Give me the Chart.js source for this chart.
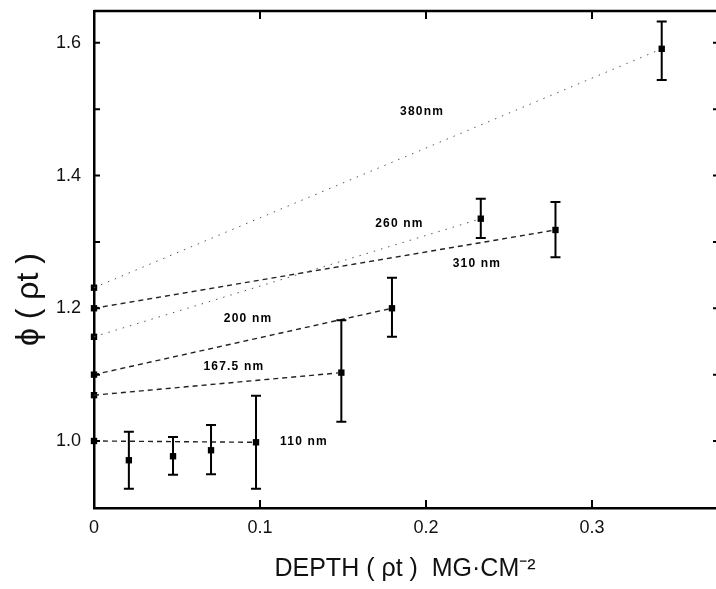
<!DOCTYPE html>
<html>
<head>
<meta charset="utf-8">
<script src="https://cdn.jsdelivr.net/npm/chart.js@4/dist/chart.umd.min.js"></script>
<style>
  body { margin: 0; background: #fff; }
</style>
</head>
<body>
<canvas id="phiChart" width="716" height="589"></canvas>
<script>
// Measured points with error bars
const depth = [0.021, 0.0476, 0.0705, 0.0976, 0.149, 0.1795, 0.233, 0.278, 0.342];
const phi = [0.971, 0.977, 0.986, 0.998, 1.103, 1.200, 1.335, 1.318, 1.591];
const errLow = [0.928, 0.949, 0.950, 0.928, 1.029, 1.157, 1.306, 1.277, 1.544];
const errHigh = [1.014, 1.006, 1.024, 1.068, 1.182, 1.246, 1.365, 1.360, 1.632];

// Extrapolated values at zero depth, one per wavelength
const wavelengths = ['110 nm', '167.5 nm', '200 nm', '260 nm', '310 nm', '380nm'];
const zeroPhi = [1.0, 1.069, 1.10, 1.157, 1.20, 1.231];
const lineEnd = [3, 4, 5, 6, 7, 8]; // index into depth/phi where each line ends
const dotted = [false, false, false, true, false, true];

// Where each wavelength label sits (data coordinates)
const labelX = [0.1265, 0.0843, 0.0928, 0.184, 0.2307, 0.1976];
const labelY = [0.9985, 1.1113, 1.1837, 1.327, 1.2667, 1.496];

// Axis ticks
const xTicks = [0, 0.1, 0.2, 0.3];
const xTickLabels = ['0', '0.1', '0.2', '0.3'];
const yTicks = [1.0, 1.1, 1.2, 1.3, 1.4, 1.5, 1.6];
const yTickLabels = ['1.0', '', '1.2', '', '1.4', '', '1.6'];

const FONT = "'Liberation Sans', Arial, sans-serif";

// Fit lines from zero depth to the measured point
const lineSets = wavelengths.map((w, i) => ({
  type: 'line',
  label: w,
  data: [{ x: 0, y: zeroPhi[i] }, { x: depth[lineEnd[i]], y: phi[lineEnd[i]] }],
  borderColor: dotted[i] ? '#555' : '#222',
  borderWidth: dotted[i] ? 1 : 1.4,
  borderDash: dotted[i] ? [1.5, 6] : [5, 4],
  pointRadius: 0,
  fill: false,
  clip: false
}));

const pointSet = {
  type: 'scatter',
  label: 'points',
  data: depth.map((d, i) => ({ x: d, y: phi[i] }))
    .concat(zeroPhi.map(v => ({ x: 0, y: v }))),
  pointStyle: 'rect',
  pointRadius: 4.5,
  backgroundColor: '#000',
  borderColor: '#000',
  borderWidth: 0,
  clip: false
};

// Error bars, axis frame, inward ticks and line labels
const decorations = {
  id: 'decorations',
  afterDatasetsDraw(chart) {
    const { ctx, chartArea: a, scales: { x, y } } = chart;
    ctx.save();
    ctx.strokeStyle = '#000';
    ctx.lineWidth = 2;

    // error bars
    depth.forEach((d, i) => {
      const px = x.getPixelForValue(d);
      const top = y.getPixelForValue(errHigh[i]);
      const bot = y.getPixelForValue(errLow[i]);
      ctx.beginPath();
      ctx.moveTo(px, top); ctx.lineTo(px, bot);
      ctx.moveTo(px - 5, top); ctx.lineTo(px + 5, top);
      ctx.moveTo(px - 5, bot); ctx.lineTo(px + 5, bot);
      ctx.stroke();
    });

    // top border
    ctx.lineWidth = 2.5;
    ctx.beginPath();
    ctx.moveTo(a.left, a.top); ctx.lineTo(a.right, a.top);
    ctx.stroke();

    // inward ticks
    ctx.lineWidth = 2;
    ctx.beginPath();
    xTicks.slice(1).forEach(v => {
      const px = x.getPixelForValue(v);
      ctx.moveTo(px, a.bottom); ctx.lineTo(px, a.bottom - 8);
      ctx.moveTo(px, a.top); ctx.lineTo(px, a.top + 8);
    });
    yTicks.forEach(v => {
      const py = y.getPixelForValue(v);
      ctx.moveTo(a.left, py); ctx.lineTo(a.left + 6, py);
      ctx.moveTo(a.right, py); ctx.lineTo(a.right - 3, py);
    });
    ctx.stroke();

    // wavelength labels
    ctx.fillStyle = '#000';
    ctx.font = "bold 12px " + FONT;
    ctx.letterSpacing = '1.2px';
    ctx.textAlign = 'center';
    ctx.textBaseline = 'middle';
    wavelengths.forEach((w, i) => {
      ctx.fillText(w, x.getPixelForValue(labelX[i]), y.getPixelForValue(labelY[i]));
    });
    ctx.restore();
  }
};

new Chart(document.getElementById('phiChart').getContext('2d'), {
  data: { datasets: lineSets.concat([pointSet]) },
  options: {
    responsive: false,
    devicePixelRatio: 1,
    animation: false,
    layout: { autoPadding: false, padding: { top: 11, right: 0, left: 0, bottom: 0 } },
    plugins: { legend: { display: false }, tooltip: { enabled: false } },
    scales: {
      x: {
        type: 'linear',
        min: 0,
        max: 0.3747,
        afterBuildTicks: s => { s.ticks = xTicks.map(v => ({ value: v })); },
        afterFit: s => { s.height = 81; s.paddingLeft = 0; s.paddingRight = 0; },
        grid: { display: false, drawTicks: false },
        border: { display: true, color: '#000', width: 2.5 },
        ticks: {
          padding: 9,
          color: '#111',
          font: { family: FONT, size: 18 },
          callback: (v, i) => xTickLabels[i]
        },
        title: {
          display: true,
          text: 'DEPTH ( ρt )  MG·CM⁻²',
          color: '#111',
          font: { family: FONT, size: 25 },
          padding: { top: 0, bottom: 5 }
        }
      },
      y: {
        type: 'linear',
        min: 0.899,
        max: 1.648,
        afterBuildTicks: s => { s.ticks = yTicks.map(v => ({ value: v })); },
        afterFit: s => { s.width = 94; s.paddingTop = 0; s.paddingBottom = 0; },
        grid: { display: false, drawTicks: false },
        border: { display: true, color: '#000', width: 2.5 },
        ticks: {
          padding: 13,
          color: '#111',
          font: { family: FONT, size: 18 },
          callback: (v, i) => yTickLabels[i]
        },
        title: {
          display: true,
          text: 'ϕ ( ρt )\u00a0\u00a0\u00a0\u00a0\u00a0\u00a0\u00a0\u00a0\u00a0',
          color: '#111',
          font: { family: FONT, size: 32 },
          padding: { top: 10, bottom: 0 }
        }
      }
    }
  },
  plugins: [decorations]
});
</script>
</body>
</html>
